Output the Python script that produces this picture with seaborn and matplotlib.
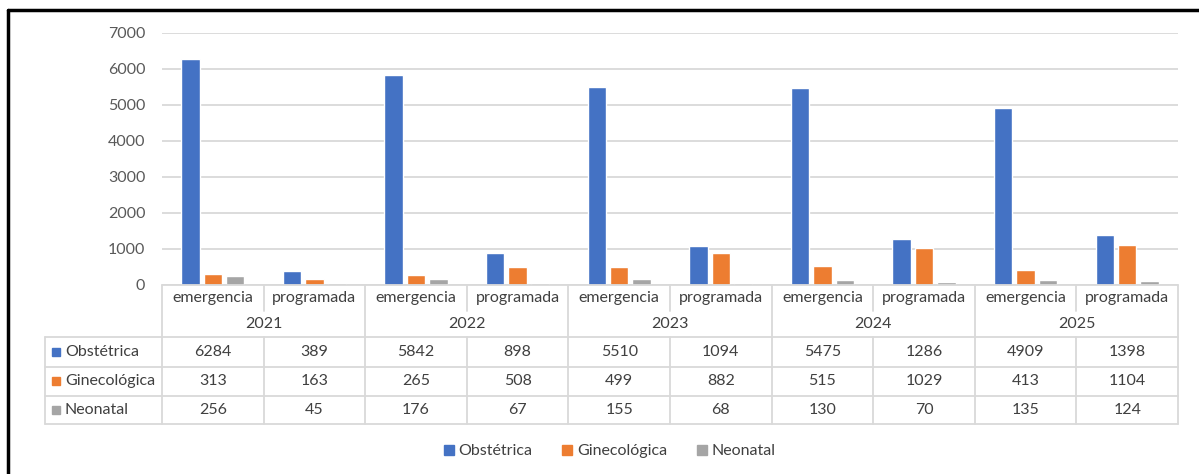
import numpy as np
import pandas as pd
import matplotlib.pyplot as plt
import seaborn as sns
from matplotlib.lines import Line2D
from matplotlib.transforms import blended_transform_factory

years = ['2021', '2022', '2023', '2024', '2025']
tipos = ['emergencia', 'programada']
series = ['Obstétrica', 'Ginecológica', 'Neonatal']
obstetrica = [6284, 389, 5842, 898, 5510, 1094, 5475, 1286, 4909, 1398]
ginecologica = [313, 163, 265, 508, 499, 882, 515, 1029, 413, 1104]
neonatal = [256, 45, 176, 67, 155, 68, 130, 70, 135, 124]
colors = ['#4472C4', '#ED7D31', '#A5A5A5']

cats = [y + ' ' + t for y in years for t in tipos]
wide = pd.DataFrame({'cat': cats, 'Obstétrica': obstetrica,
                     'Ginecológica': ginecologica, 'Neonatal': neonatal})
df = wide.melt(id_vars='cat', var_name='serie', value_name='valor')

sns.set_style('white')
plt.rcParams['font.family'] = ['Lato', 'DejaVu Sans']
txt_col = '#404040'
grid_col = '#D9D9D9'
fs = 11.5

W, H = 1199, 474
fig = plt.figure(figsize=(W / 100, H / 100), dpi=100)
ax = fig.add_axes([162 / W, 1 - 285 / H, (1178 - 162) / W, (285 - 33) / H])

sns.barplot(data=df, x='cat', y='valor', hue='serie', order=cats, hue_order=series,
            palette=colors, width=0.66, gap=0.18, ax=ax, legend=False, saturation=1)

ax.set_ylim(0, 7000)
ax.set_xlim(-0.5, len(cats) - 0.5)
ax.set_yticks(range(0, 7001, 1000))
ax.tick_params(axis='y', length=0, pad=12, labelsize=fs, labelcolor='#595959')
ax.set_xticks([])
ax.set_xlabel('')
ax.set_ylabel('')
ax.grid(axis='y', color=grid_col, linewidth=1.3)
ax.set_axisbelow(True)
for s in ax.spines.values():
    s.set_visible(False)


def fy(y):
    return 1 - y / H


# data table under the axis
tr = blended_transform_factory(ax.transData, fig.transFigure)
lw = 1.3
n = len(cats)

def hline(x0, x1, y, trans):
    fig.add_artist(Line2D([x0, x1], [fy(y), fy(y)], transform=trans, color=grid_col, lw=lw))

def vline(x, y0, y1, trans):
    fig.add_artist(Line2D([x, x], [fy(y0), fy(y1)], transform=trans, color=grid_col, lw=lw))

hline(-0.5, n - 0.5, 285, tr)
for y in [337, 367, 396, 424]:
    hline(45 / W, 1178 / W, y, fig.transFigure)
vline(45 / W, 337, 424, fig.transFigure)
for i in range(n + 1):
    x = i - 0.5
    if i % 2 == 0:
        vline(x, 285, 424, tr)
    else:
        vline(x, 285, 311, tr)
        vline(x, 337, 424, tr)

for i, c in enumerate(cats):
    fig.text(i, fy(298), tipos[i % 2], transform=tr, ha='center', va='center',
             fontsize=fs, color=txt_col)
for k, y in enumerate(years):
    fig.text(2 * k + 0.5, fy(324), y, transform=tr, ha='center', va='center',
             fontsize=fs, color=txt_col)

rows = [obstetrica, ginecologica, neonatal]
row_y = [352, 381, 410]
for name, vals, col, y in zip(series, rows, colors, row_y):
    fig.add_artist(plt.Rectangle((52 / W, fy(y + 4)), 8 / W, 8 / H,
                                 transform=fig.transFigure, color=col))
    fig.text(65 / W, fy(y), name, ha='left', va='center', fontsize=fs, color=txt_col)
    for i, v in enumerate(vals):
        fig.text(i, fy(y), str(v), transform=tr, ha='center', va='center',
                 fontsize=fs, color=txt_col)

handles = [Line2D([], [], marker='s', linestyle='', markersize=6.5,
                  markerfacecolor=c, markeredgecolor=c) for c in colors]
fig.legend(handles, series, loc='center', bbox_to_anchor=(609 / W, fy(451)), ncol=3,
           frameon=False, fontsize=fs, labelcolor=txt_col, handletextpad=0.2,
           columnspacing=1.8, handlelength=0.8)

# border of the screenshot frame
fig.add_artist(Line2D([8 / W, 1], [fy(10), fy(10)], transform=fig.transFigure,
                      color='black', lw=2.5))
fig.add_artist(Line2D([8 / W, 8 / W], [fy(10), 0], transform=fig.transFigure,
                      color='black', lw=2.5))

fig.savefig('out.png', dpi=100)
